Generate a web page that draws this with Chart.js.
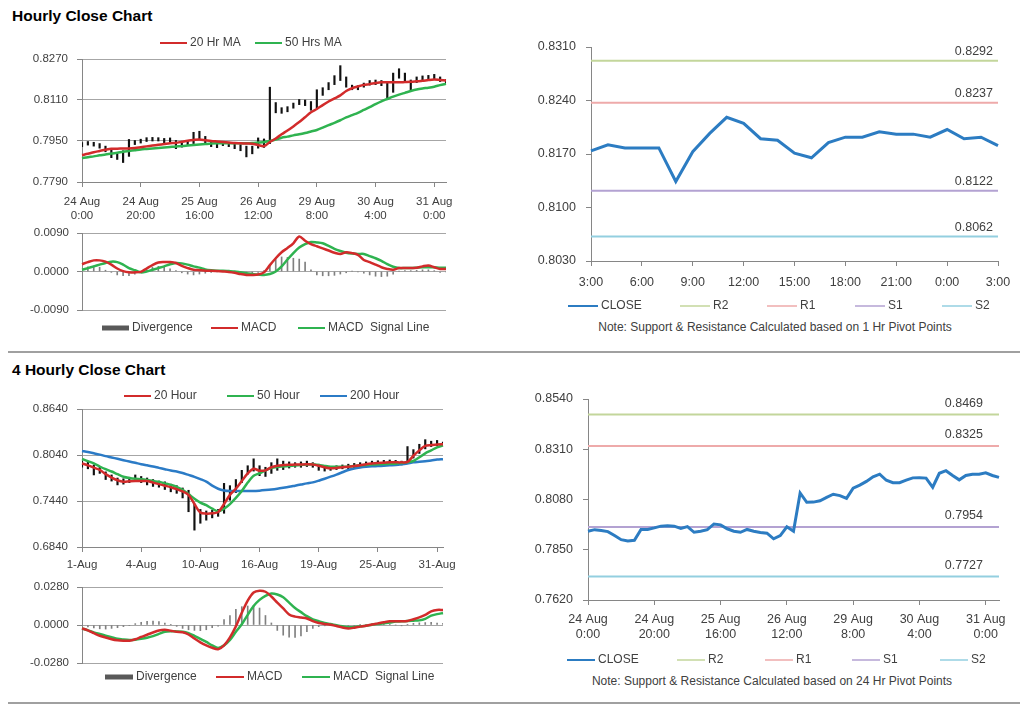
<!DOCTYPE html>
<html lang="en">
<head>
<meta charset="utf-8">
<title>Hourly and 4 Hourly Close Charts</title>
<script src="https://cdn.jsdelivr.net/npm/chart.js@4.4.1/dist/chart.umd.min.js"></script>
<style>
body { margin: 0; background: #fff; font-family: "Liberation Sans", Arial, sans-serif; }
#page { position: relative; width: 1024px; height: 705px; overflow: hidden; }
#page canvas { position: absolute; left: 0; top: 0; }
.title { position: absolute; left: 12px; font-weight: bold; font-size: 15.5px; line-height: 18px; color: #000; }
.note { position: absolute; font-size: 12px; line-height: 14px; color: #404040; white-space: nowrap; transform: translateX(-50%); }
.rule { position: absolute; left: 8px; width: 1012px; height: 2px; background: #a0a0a0; }
</style>
</head>
<body>
<div id="page">
  <div class="title" style="top:7px">Hourly Close Chart</div>
  <div class="title" style="top:361px">4 Hourly Close Chart</div>
  <div class="note" style="left:775px; top:320px">Note: Support &amp; Resistance Calculated based on 1 Hr Pivot Points</div>
  <div class="note" style="left:772px; top:674px">Note: Support &amp; Resistance Calculated based on 24 Hr Pivot Points</div>
  <div class="rule" style="top:351px"></div>
  <div class="rule" style="top:702px"></div>
  <canvas id="hourPrice" width="1024" height="705"></canvas>
  <canvas id="hourMacd" width="1024" height="705"></canvas>
  <canvas id="dayPivot" width="1024" height="705"></canvas>
  <canvas id="fourPrice" width="1024" height="705"></canvas>
  <canvas id="fourMacd" width="1024" height="705"></canvas>
  <canvas id="weekPivot" width="1024" height="705"></canvas>
</div>
<script>
// ---- hourly series, one value every 2 hours from 24 Aug 0:00 ----
var hourTicks = [['24 Aug', '0:00'], ['24 Aug', '20:00'], ['25 Aug', '16:00'], ['26 Aug', '12:00'],
                 ['29 Aug', '8:00'], ['30 Aug', '4:00'], ['31 Aug', '0:00']];
var closeH = [0.7935,0.7942,0.7938,0.7933,0.7915,0.7896,0.7890,0.7893,0.7943,0.7943,
  0.7950,0.7958,0.7960,0.7958,0.7948,0.7956,0.7930,0.7935,0.7942,0.7968,
  0.7964,0.7946,0.7935,0.7930,0.7943,0.7935,0.7929,0.7926,0.7900,0.7915,
  0.7955,0.7935,0.8110,0.8067,0.8068,0.8074,0.8090,0.8104,0.8098,0.8085,
  0.8132,0.8146,0.8163,0.8184,0.8196,0.8168,0.8157,0.8157,0.8169,0.8179,
  0.8180,0.8178,0.8136,0.8200,0.8212,0.8190,0.8170,0.8190,0.8196,0.8196,
  0.8202,0.8190,0.8181];
var hiH = [0.7944,0.7948,0.7945,0.7940,0.7930,0.7918,0.7900,0.7912,0.7956,0.7952,
  0.7957,0.7963,0.7964,0.7963,0.7960,0.7962,0.7952,0.7945,0.7950,0.7984,
  0.7988,0.7968,0.7948,0.7942,0.7948,0.7945,0.7940,0.7936,0.7930,0.7930,
  0.7962,0.7958,0.8160,0.8100,0.8080,0.8084,0.8098,0.8112,0.8110,0.8104,
  0.8150,0.8158,0.8178,0.8205,0.8244,0.8200,0.8168,0.8166,0.8176,0.8186,
  0.8188,0.8186,0.8178,0.8215,0.8232,0.8215,0.8188,0.8200,0.8204,0.8206,
  0.8210,0.8200,0.8190];
var loH = [0.7928,0.7934,0.7930,0.7922,0.7908,0.7885,0.7878,0.7866,0.7890,0.7936,
  0.7942,0.7948,0.7950,0.7950,0.7942,0.7946,0.7920,0.7926,0.7934,0.7940,
  0.7955,0.7938,0.7928,0.7924,0.7932,0.7928,0.7920,0.7912,0.7888,0.7900,
  0.7922,0.7925,0.7940,0.8060,0.8058,0.8064,0.8078,0.8092,0.8088,0.8070,
  0.8080,0.8128,0.8150,0.8170,0.8186,0.8160,0.8150,0.8150,0.8160,0.8168,
  0.8170,0.8166,0.8112,0.8140,0.8195,0.8180,0.8148,0.8178,0.8186,0.8188,
  0.8190,0.8182,0.8174];
var ma20H = [0.7895,0.7900,0.7906,0.7911,0.7916,0.7920,0.7920,0.7921,0.7921,0.7923,
  0.7926,0.7929,0.7932,0.7935,0.7938,0.7941,0.7943,0.7947,0.7951,0.7954,
  0.7956,0.7953,0.7950,0.7948,0.7946,0.7944,0.7942,0.7941,0.7940,0.7939,
  0.7934,0.7930,0.7946,0.7960,0.7976,0.7991,0.8007,0.8024,0.8043,0.8062,
  0.8075,0.8090,0.8104,0.8116,0.8128,0.8145,0.8156,0.8163,0.8169,0.8172,
  0.8176,0.8179,0.8179,0.8179,0.8179,0.8180,0.8181,0.8183,0.8185,0.8188,
  0.8190,0.8188,0.8186];
var ma50H = [0.7883,0.7887,0.7890,0.7894,0.7897,0.7901,0.7904,0.7908,0.7911,0.7914,
  0.7917,0.7919,0.7921,0.7923,0.7925,0.7927,0.7929,0.7930,0.7932,0.7934,
  0.7936,0.7938,0.7940,0.7941,0.7941,0.7941,0.7941,0.7941,0.7941,0.7942,
  0.7944,0.7946,0.7950,0.7956,0.7963,0.7967,0.7972,0.7976,0.7981,0.7987,
  0.7993,0.8002,0.8012,0.8021,0.8031,0.8042,0.8051,0.8060,0.8071,0.8082,
  0.8094,0.8105,0.8114,0.8123,0.8131,0.8138,0.8145,0.8151,0.8155,0.8158,
  0.8162,0.8168,0.8173];
var divH = [0.0008,0.0011,0.0013,0.0010,0.0003,-0.0002,-0.0008,-0.0010,-0.0010,-0.0006,
  -0.0001,0.0006,0.0010,0.0012,0.0010,0.0006,0.0002,-0.0003,-0.0006,-0.0008,
  -0.0006,-0.0004,-0.0002,-0.0001,0.0000,-0.0001,-0.0002,-0.0004,-0.0005,-0.0004,
  -0.0002,0.0002,0.0012,0.0028,0.0034,0.0033,0.0031,0.0029,0.0022,0.0004,
  -0.0008,-0.0010,-0.0010,-0.0009,-0.0006,-0.0003,0.0001,-0.0001,-0.0004,-0.0008,
  -0.0011,-0.0012,-0.0011,-0.0006,0.0001,0.0002,0.0002,0.0003,0.0004,0.0004,
  0.0002,-0.0002,-0.0001];
var macdH = [0.0017,0.0022,0.0026,0.0026,0.0023,0.0016,0.0007,0.0001,-0.0002,-0.0002,
  -0.0001,0.0007,0.0015,0.0021,0.0022,0.0022,0.0020,0.0013,0.0008,0.0004,
  0.0003,0.0002,0.0002,0.0001,0.0000,-0.0001,-0.0003,-0.0006,-0.0008,-0.0008,
  -0.0007,-0.0002,0.0015,0.0031,0.0045,0.0055,0.0066,0.0082,0.0072,0.0064,
  0.0059,0.0054,0.0049,0.0044,0.0041,0.0045,0.0043,0.0039,0.0027,0.0022,
  0.0016,0.0010,0.0006,0.0004,0.0008,0.0008,0.0008,0.0009,0.0012,0.0014,
  0.0010,0.0006,0.0006];
var signalH = [0.0004,0.0008,0.0012,0.0016,0.0020,0.0023,0.0022,0.0016,0.0008,0.0003,
  -0.0002,0.0000,0.0004,0.0008,0.0012,0.0017,0.0020,0.0019,0.0016,0.0012,
  0.0009,0.0005,0.0003,0.0002,0.0002,0.0001,0.0000,-0.0002,-0.0004,-0.0006,
  -0.0007,-0.0008,-0.0006,0.0000,0.0012,0.0028,0.0043,0.0056,0.0064,0.0069,
  0.0068,0.0066,0.0060,0.0053,0.0048,0.0044,0.0042,0.0041,0.0041,0.0036,
  0.0031,0.0025,0.0017,0.0011,0.0008,0.0008,0.0008,0.0009,0.0010,0.0010,
  0.0010,0.0009,0.0009];

// ---- last 24 hours, hourly closes ----
var dayLabels = ['3:00','4:00','5:00','6:00','7:00','8:00','9:00','10:00','11:00','12:00','13:00','14:00',
  '15:00','16:00','17:00','18:00','19:00','20:00','21:00','22:00','23:00','0:00','1:00','2:00','3:00'];
var closeDay = [0.8174,0.8182,0.8178,0.8178,0.8178,0.8134,0.8173,0.8197,0.8218,0.8210,0.8190,0.8188,
  0.8171,0.8165,0.8185,0.8192,0.8192,0.8199,0.8196,0.8196,0.8192,0.8202,0.8190,0.8192,0.8181];

// ---- pivot levels ----
var pivotNames = ['R2', 'R1', 'S1', 'S2'];
var pivotHourly = [0.8292, 0.8237, 0.8122, 0.8062];
var pivotDaily = [0.8469, 0.8325, 0.7954, 0.7727];

// ---- 4 hourly series ----
var fourTicks = ['1-Aug', '4-Aug', '10-Aug', '16-Aug', '19-Aug', '25-Aug', '31-Aug'];
var hiF = [0.7960,0.7950,0.7910,0.7880,0.7820,0.7780,0.7740,0.7730,0.7750,0.7780,
  0.7760,0.7740,0.7720,0.7700,0.7690,0.7660,0.7640,0.7610,0.7580,0.7400,
  0.7330,0.7310,0.7320,0.7330,0.7670,0.7640,0.7720,0.7840,0.7900,0.7990,
  0.7900,0.7880,0.7940,0.7990,0.7960,0.7950,0.7940,0.7950,0.7960,0.7940,
  0.7920,0.7900,0.7890,0.7900,0.7910,0.7920,0.7930,0.7940,0.7950,0.7960,
  0.7965,0.7970,0.7975,0.7970,0.7960,0.8150,0.8110,0.8180,0.8240,0.8220,
  0.8230,0.8210];
var loF = [0.7880,0.7860,0.7780,0.7800,0.7720,0.7700,0.7650,0.7660,0.7680,0.7700,
  0.7680,0.7650,0.7630,0.7620,0.7590,0.7560,0.7540,0.7480,0.7300,0.7060,
  0.7150,0.7190,0.7220,0.7240,0.7280,0.7450,0.7550,0.7680,0.7790,0.7830,
  0.7770,0.7760,0.7800,0.7840,0.7850,0.7870,0.7880,0.7880,0.7890,0.7880,
  0.7840,0.7830,0.7840,0.7850,0.7860,0.7860,0.7870,0.7880,0.7900,0.7910,
  0.7915,0.7920,0.7920,0.7915,0.7910,0.7930,0.8000,0.8060,0.8120,0.8150,
  0.8160,0.8160];
var ma20F = [0.7931,0.7905,0.7875,0.7845,0.7790,0.7745,0.7710,0.7692,0.7698,0.7702,
  0.7700,0.7701,0.7680,0.7660,0.7640,0.7620,0.7595,0.7565,0.7520,0.7400,
  0.7290,0.7275,0.7279,0.7295,0.7400,0.7520,0.7600,0.7700,0.7800,0.7860,
  0.7835,0.7840,0.7880,0.7900,0.7908,0.7912,0.7915,0.7917,0.7918,0.7915,
  0.7900,0.7880,0.7866,0.7870,0.7880,0.7888,0.7895,0.7905,0.7920,0.7930,
  0.7936,0.7940,0.7944,0.7944,0.7944,0.7950,0.8030,0.8100,0.8160,0.8170,
  0.8178,0.8180];
var ma50F = [0.7988,0.7960,0.7930,0.7890,0.7855,0.7825,0.7790,0.7757,0.7740,0.7730,
  0.7725,0.7715,0.7700,0.7690,0.7670,0.7650,0.7625,0.7585,0.7530,0.7470,
  0.7420,0.7385,0.7340,0.7305,0.7340,0.7400,0.7480,0.7570,0.7680,0.7770,
  0.7801,0.7840,0.7870,0.7883,0.7890,0.7896,0.7903,0.7910,0.7916,0.7918,
  0.7910,0.7898,0.7888,0.7886,0.7887,0.7888,0.7895,0.7905,0.7910,0.7915,
  0.7918,0.7922,0.7925,0.7927,0.7935,0.7945,0.7962,0.8010,0.8062,0.8100,
  0.8140,0.8165];
var ma200F = [0.8092,0.8078,0.8062,0.8045,0.8025,0.8008,0.7990,0.7972,0.7955,0.7938,
  0.7920,0.7905,0.7890,0.7872,0.7855,0.7838,0.7825,0.7805,0.7780,0.7755,
  0.7725,0.7692,0.7640,0.7600,0.7578,0.7570,0.7570,0.7570,0.7570,0.7570,
  0.7575,0.7582,0.7590,0.7600,0.7612,0.7625,0.7640,0.7655,0.7670,0.7683,
  0.7705,0.7730,0.7757,0.7785,0.7815,0.7845,0.7865,0.7878,0.7887,0.7893,
  0.7896,0.7900,0.7905,0.7909,0.7918,0.7930,0.7944,0.7952,0.7960,0.7968,
  0.7980,0.7986];
var divF = [-0.0010,-0.0015,-0.0022,-0.0028,-0.0030,-0.0025,-0.0020,-0.0012,-0.0005,0.0010,
  0.0020,0.0027,0.0028,0.0025,0.0015,0.0005,-0.0010,-0.0025,-0.0035,-0.0040,
  -0.0042,-0.0035,-0.0020,-0.0008,0.0040,0.0070,0.0115,0.0135,0.0140,0.0145,
  0.0125,0.0070,0.0015,-0.0040,-0.0075,-0.0090,-0.0092,-0.0080,-0.0050,-0.0025,
  -0.0012,-0.0006,-0.0003,-0.0008,-0.0010,-0.0008,-0.0004,0.0002,0.0005,0.0008,
  0.0010,0.0010,0.0006,0.0000,-0.0006,0.0005,0.0012,0.0016,0.0018,0.0020,
  0.0015,0.0012];
var macdF = [-0.0025,-0.0040,-0.0060,-0.0079,-0.0092,-0.0105,-0.0113,-0.0116,-0.0116,-0.0105,
  -0.0088,-0.0072,-0.0055,-0.0040,-0.0035,-0.0042,-0.0050,-0.0053,-0.0070,-0.0100,
  -0.0128,-0.0150,-0.0168,-0.0179,-0.0150,-0.0091,-0.0010,0.0090,0.0180,0.0240,
  0.0253,0.0245,0.0210,0.0165,0.0122,0.0078,0.0062,0.0055,0.0048,0.0028,
  0.0015,0.0008,0.0002,-0.0008,-0.0018,-0.0025,-0.0020,-0.0012,-0.0005,0.0004,
  0.0012,0.0020,0.0027,0.0027,0.0027,0.0030,0.0042,0.0056,0.0075,0.0100,
  0.0111,0.0111];
var signalF = [-0.0025,-0.0040,-0.0054,-0.0066,-0.0078,-0.0090,-0.0102,-0.0107,-0.0110,-0.0108,
  -0.0102,-0.0094,-0.0082,-0.0065,-0.0050,-0.0046,-0.0047,-0.0049,-0.0060,-0.0080,
  -0.0103,-0.0125,-0.0150,-0.0169,-0.0150,-0.0110,-0.0050,0.0005,0.0075,0.0140,
  0.0185,0.0215,0.0232,0.0225,0.0205,0.0165,0.0125,0.0095,0.0065,0.0042,
  0.0028,0.0015,0.0007,-0.0002,-0.0010,-0.0016,-0.0015,-0.0010,-0.0005,0.0002,
  0.0008,0.0012,0.0018,0.0025,0.0027,0.0030,0.0032,0.0034,0.0045,0.0069,
  0.0080,0.0088];

// ---- axis tick values ----
var yTicksHour = [0.7790, 0.7950, 0.8110, 0.8270];
var yTicksHourMacd = [-0.0090, 0.0000, 0.0090];
var yTicksDay = [0.8030, 0.8100, 0.8170, 0.8240, 0.8310];
var yTicksFour = [0.6840, 0.7440, 0.8040, 0.8640];
var yTicksFourMacd = [-0.0280, 0.0000, 0.0280];
var yTicksWeek = [0.7620, 0.7850, 0.8080, 0.8310, 0.8540];

var RED = '#d22b2b', GREEN = '#2fb350', BLUE = '#2b7bc6', CLOSE = '#2c7cc2';
var PIVOT_COLORS = ['#c3d69b', '#eeaaaa', '#b3a2d2', '#93cfe0'];
var GRID = '#a6a6a6', AXIS = '#868686', TEXT = '#404040';
var FONT = '"Liberation Sans", Arial, sans-serif';

Chart.defaults.font.family = FONT;
Chart.defaults.color = TEXT;

// every canvas covers the whole page, the plot box is placed with padding
function frame(L, T, R, B, yW, xH) {
  return { left: L - yW, top: T, right: 1024 - R, bottom: 705 - B - xH };
}

function yAxis(tickVals, width, pad, size, onArea) {
  return {
    min: tickVals[0], max: tickVals[tickVals.length - 1],
    afterBuildTicks: function (s) { s.ticks = tickVals.map(function (v) { return { value: v }; }); },
    afterFit: function (s) { s.width = width; },
    ticks: { padding: pad, font: { size: size }, color: TEXT, callback: function (v) { return v.toFixed(4); } },
    grid: { color: GRID, tickColor: AXIS, tickLength: 5, drawOnChartArea: onArea },
    border: { color: AXIS }
  };
}

function xAxis(step, labelFor, pad, size, height) {
  return {
    offset: false,
    afterBuildTicks: function (s) { s.ticks = s.ticks.filter(function (t) { return t.value % step === 0; }); },
    afterFit: function (s) { s.height = height; },
    ticks: { autoSkip: false, maxRotation: 0, padding: pad, font: { size: size }, color: TEXT, callback: labelFor },
    grid: { offset: false, drawOnChartArea: false, color: AXIS, tickLength: 5 },
    border: { color: AXIS }
  };
}

var hiddenX = { display: false, offset: false, grid: { offset: false } };

// legend drawn at fixed spots, colours taken from the datasets
var lineLegend = {
  id: 'lineLegend',
  afterDraw: function (chart, args, opts) {
    if (!opts.items) return;
    var ctx = chart.ctx;
    ctx.save();
    ctx.font = opts.size + 'px ' + FONT;
    ctx.textBaseline = 'middle';
    opts.items.forEach(function (it) {
      var ds = chart.data.datasets[it.ds];
      ctx.strokeStyle = it.color || ds.borderColor;
      ctx.lineWidth = it.lw || ds.borderWidth;
      ctx.beginPath();
      ctx.moveTo(it.x, opts.y);
      ctx.lineTo(it.x + opts.len, opts.y);
      ctx.stroke();
      ctx.fillStyle = TEXT;
      ctx.fillText(ds.label, it.x + opts.len + 3, opts.y);
    });
    ctx.restore();
  }
};

// numbers written above the pivot lines
var levelLabels = {
  id: 'levelLabels',
  afterDatasetsDraw: function (chart, args, opts) {
    if (!opts.right) return;
    var ctx = chart.ctx, y = chart.scales.y;
    ctx.save();
    ctx.font = '12.5px ' + FONT;
    ctx.textAlign = 'right';
    ctx.textBaseline = 'middle';
    ctx.fillStyle = TEXT;
    chart.data.datasets.forEach(function (ds) {
      if (ds.level === undefined) return;
      ctx.fillText(ds.level.toFixed(4), opts.right, y.getPixelForValue(ds.level) - opts.gap);
    });
    ctx.restore();
  }
};

var common = { responsive: false, animation: false, events: [] };

function baseOptions(padding, plugins, scales) {
  var p = Object.assign({ legend: { display: false }, tooltip: { enabled: false } }, plugins);
  return Object.assign({}, common, { layout: { padding: padding }, plugins: p, scales: scales });
}

function lineSet(label, data, color, width, tension) {
  return { label: label, data: data, borderColor: color, backgroundColor: color, borderWidth: width,
           pointRadius: 0, tension: tension, order: 1 };
}

function pivotSets(levels, lastIndex) {
  return levels.map(function (v, i) {
    return { label: pivotNames[i], data: [{ x: 0, y: v }, { x: lastIndex, y: v }], level: v,
             borderColor: PIVOT_COLORS[i], borderWidth: 2, pointRadius: 0, order: 2 };
  });
}

var hourIdx = closeH.map(function (v, i) { return i; });
var fourIdx = ma20F.map(function (v, i) { return i; });
var dayIdx = closeDay.map(function (v, i) { return i; });

// Hourly close with moving averages
new Chart(document.getElementById('hourPrice'), {
  type: 'line',
  data: {
    labels: hourIdx,
    datasets: [
      lineSet('20 Hr MA', ma20H, RED, 2.5, 0.3),
      lineSet('50 Hrs MA', ma50H, GREEN, 2.5, 0.3),
      { type: 'bar', label: 'High-Low', data: loH.map(function (lo, i) { return [lo, hiH[i]]; }),
        backgroundColor: '#111', barThickness: 1.5, order: 3 }
    ]
  },
  options: baseOptions(frame(82, 59, 446, 182, 82, 40),
    { lineLegend: { y: 43, len: 27, size: 12, items: [{ ds: 0, x: 160, lw: 2 }, { ds: 1, x: 255, lw: 2 }] } },
    { x: xAxis(10, function (v) { return hourTicks[v / 10]; }, 8, 11.5, 40),
      y: yAxis(yTicksHour, 82, 9, 11.5, true) }),
  plugins: [lineLegend]
});

// Hourly MACD
new Chart(document.getElementById('hourMacd'), {
  type: 'line',
  data: {
    labels: hourIdx,
    datasets: [
      { type: 'bar', label: 'Divergence', data: divH, backgroundColor: '#808080', barThickness: 1, order: 3 },
      lineSet('MACD', macdH, RED, 2.5, 0.3),
      lineSet('MACD  Signal Line', signalH, GREEN, 2.5, 0.3)
    ]
  },
  options: baseOptions(frame(82, 233, 446, 310, 82, 0),
    { lineLegend: { y: 328, len: 27, size: 12, items: [
      { ds: 0, x: 102, lw: 5, color: '#595959' }, { ds: 1, x: 211, lw: 2 }, { ds: 2, x: 298, lw: 2 }] } },
    { x: hiddenX, y: yAxis(yTicksHourMacd, 82, 8, 11.5, true) }),
  plugins: [lineLegend]
});

// Last 24 hours against 1 hr pivots
new Chart(document.getElementById('dayPivot'), {
  type: 'line',
  data: {
    labels: dayIdx,
    datasets: [lineSet('CLOSE', closeDay, CLOSE, 3, 0)].concat(pivotSets(pivotHourly, 24))
  },
  options: baseOptions(frame(591, 47, 998, 261, 591, 40),
    { lineLegend: { y: 306, len: 30, size: 12, items: [
      { ds: 0, x: 568, lw: 2 }, { ds: 1, x: 680, lw: 1.5 }, { ds: 2, x: 767, lw: 1.5 },
      { ds: 3, x: 855, lw: 1.5 }, { ds: 4, x: 942, lw: 1.5 }] },
      levelLabels: { right: 993, gap: 9 } },
    { x: xAxis(3, function (v) { return dayLabels[v]; }, 9.5, 12.5, 40),
      y: yAxis(yTicksDay, 591, 10, 12.5, false) }),
  plugins: [levelLabels, lineLegend]
});

// 4 hourly close with moving averages
new Chart(document.getElementById('fourPrice'), {
  type: 'line',
  data: {
    labels: fourIdx,
    datasets: [
      lineSet('20 Hour', ma20F, RED, 2.5, 0.3),
      lineSet('50 Hour', ma50F, GREEN, 2.5, 0.3),
      lineSet('200 Hour', ma200F, BLUE, 2.5, 0.3),
      { type: 'bar', label: 'High-Low', data: loF.map(function (lo, i) { return [lo, hiF[i]]; }),
        backgroundColor: '#111', barThickness: 1.5, order: 3 }
    ]
  },
  options: baseOptions(frame(82, 409, 443, 547, 82, 30),
    { lineLegend: { y: 396, len: 27, size: 12, items: [
      { ds: 0, x: 124, lw: 2 }, { ds: 1, x: 227, lw: 2 }, { ds: 2, x: 320, lw: 2 }] } },
    { x: xAxis(10, function (v) { return fourTicks[v / 10]; }, 6, 11.5, 30),
      y: yAxis(yTicksFour, 82, 9, 11.5, true) }),
  plugins: [lineLegend]
});

// 4 hourly MACD
new Chart(document.getElementById('fourMacd'), {
  type: 'line',
  data: {
    labels: fourIdx,
    datasets: [
      { type: 'bar', label: 'Divergence', data: divF, backgroundColor: '#808080', barThickness: 1, order: 3 },
      lineSet('MACD', macdF, RED, 2.5, 0.3),
      lineSet('MACD  Signal Line', signalF, GREEN, 2.5, 0.3)
    ]
  },
  options: baseOptions(frame(82, 587, 443, 663, 82, 0),
    { lineLegend: { y: 677, len: 28, size: 12, items: [
      { ds: 0, x: 105, lw: 5, color: '#595959' }, { ds: 1, x: 216, lw: 2 }, { ds: 2, x: 302, lw: 2 }] } },
    { x: hiddenX, y: yAxis(yTicksFourMacd, 82, 8, 11.5, true) }),
  plugins: [lineLegend]
});

// Hourly closes against 24 hr pivots
new Chart(document.getElementById('weekPivot'), {
  type: 'line',
  data: {
    labels: hourIdx,
    datasets: [lineSet('CLOSE', closeH, CLOSE, 3, 0)].concat(pivotSets(pivotDaily, closeH.length - 1))
  },
  options: baseOptions(frame(588, 399, 999, 600, 588, 45),
    { lineLegend: { y: 660, len: 28, size: 12, items: [
      { ds: 0, x: 567, lw: 2 }, { ds: 1, x: 677, lw: 1.5 }, { ds: 2, x: 765, lw: 1.5 },
      { ds: 3, x: 852, lw: 1.5 }, { ds: 4, x: 940, lw: 1.5 }] },
      levelLabels: { right: 983, gap: 11 } },
    { x: xAxis(10, function (v) { return hourTicks[v / 10]; }, 7.5, 12.5, 45),
      y: yAxis(yTicksWeek, 588, 10, 12.5, false) }),
  plugins: [levelLabels, lineLegend]
});
</script>
</body>
</html>
